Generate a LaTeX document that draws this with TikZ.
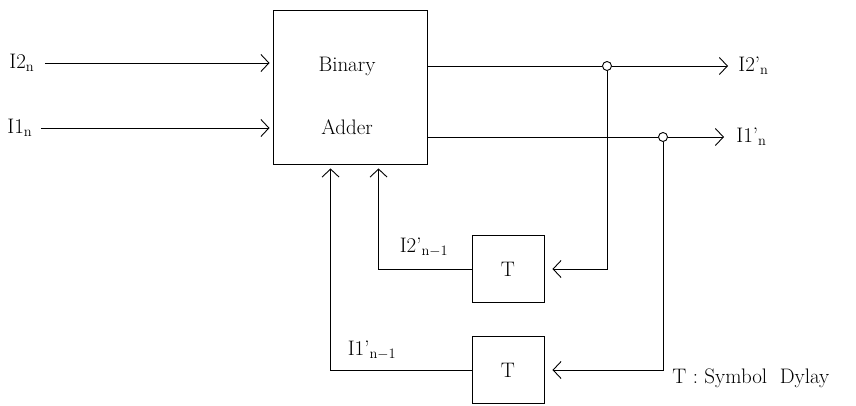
\documentclass[tikz,border=0pt]{standalone}
\usetikzlibrary{positioning, arrows.meta, calc}
\newcommand{\diagfont}{\fontsize{21}{25}\selectfont}
\begin{document}
\begin{tikzpicture}[
    x=1pt, y=-1pt, line width=0.9pt,
    block/.style={draw, minimum width=154pt, minimum height=154pt, inner sep=0pt},
    delay/.style={draw, minimum width=72pt, minimum height=67pt, inner sep=0pt, font=\diagfont},
    tap/.style={draw, circle, fill=white, minimum size=9pt, inner sep=0pt},
    lbl/.style={font=\diagfont, inner sep=0pt},
    arrow/.style={-{Straight Barb[length=8pt, width=17pt]}}
]
\useasboundingbox (0,0) rectangle (856,406);

% Adder
\node[block] (adder) at (350,87) {};
\node[lbl] (bin) at (347,66) {Binary};
\node[lbl] (add) at (347,127) {Adder};

% Inputs
\node[lbl, anchor=west] (i2) at (9,63) {I2$_{\mathrm{n}}$};
\node[lbl, anchor=west] (i1) at (7,128) {I1$_{\mathrm{n}}$};
\draw[arrow, shorten <=10pt, shorten >=3pt] (i2) -- (i2 -| adder.west);
\draw[arrow, shorten <=8pt, shorten >=3pt] (i1) -- (i1 -| adder.west);

% Outputs
\node[tap] (c2) at (607,66) {};
\node[tap] (c1) at (663,137) {};
\node[lbl, anchor=west] (o2) at (738,66) {I2'$_{\mathrm{n}}$};
\node[lbl, anchor=west] (o1) at (736,137) {I1'$_{\mathrm{n}}$};
\draw (adder.east |- c2) -- (c2);
\draw (adder.east |- c1) -- (c1);
\draw[arrow, shorten >=10pt] (c2) -- (o2);
\draw[arrow, shorten >=12pt] (c1) -- (o1);

% Delays
\node[delay] (t2) at (508,269) {T};
\node[delay] (t1) at (508,370) {T};
\draw[arrow, shorten >=8pt] (c2) |- (t2);
\draw[arrow, shorten >=8pt] (c1) |- (t1);

% Feedback
\draw[arrow, shorten >=4pt] (t2.west) -| ([xshift=106pt]adder.south west);
\draw[arrow, shorten >=4pt] (t1.west) -| ([xshift=58pt]adder.south west);
\node[lbl] (f2) at (424,247) {I2'$_{\mathrm{n-1}}$};
\node[lbl] (f1) at (372,350) {I1'$_{\mathrm{n-1}}$};

% Key
\node[lbl, anchor=west] (key) at (672,378) {T : Symbol \ Dylay};

\end{tikzpicture}
\end{document}
